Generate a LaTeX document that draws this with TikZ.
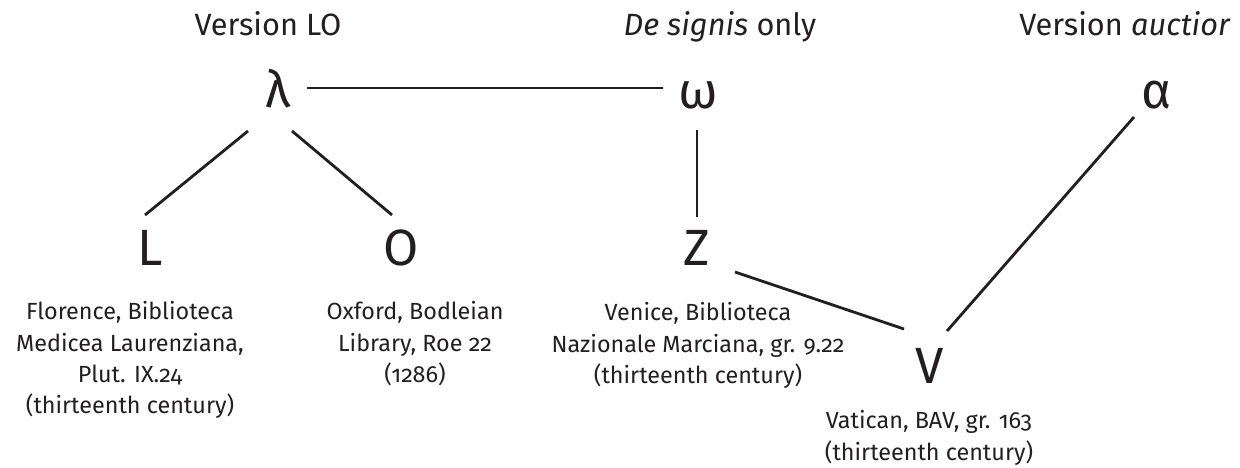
\documentclass[tikz,border=0pt]{standalone}
\usepackage{fontspec}
\setmainfont{Fira Sans}[Numbers=OldStyle]
\usetikzlibrary{calc}
\definecolor{ink}{HTML}{231F20}

\begin{document}
\begin{tikzpicture}[x=0.02cm, y=0.02cm]
\tikzstyle{every node}+=[inner sep=0pt, text=ink]
\tikzstyle{siglum}=[font=\fontsize{29}{29}\selectfont, anchor=base]
\tikzstyle{heading}=[font=\fontsize{17.5}{20}\selectfont, anchor=base]
\tikzstyle{shelfmark}=[font=\fontsize{13.3}{17.9}\selectfont, align=center, anchor=north]
\tikzstyle{link}=[ink, line width=1.6pt]
\useasboundingbox (0,0) rectangle (1240,-467);
% headings
\node [heading] (hlo) at (268,-35) {Version LO};
\node [heading] (hsig) at (720,-35) {\textit{De signis} only};
\node [heading] (hauct) at (1125,-35) {Version \textit{auctior}};
% sigla
\node [siglum] (lam) at (278,-107) {λ};
\node [siglum] (om) at (698,-108) {ω};
\node [siglum] (al) at (1157,-108) {α};
\node [siglum] (L) at (150,-265) {L};
\node [siglum] (O) at (401,-265) {O};
\node [siglum] (Z) at (697,-265) {Z};
\node [siglum] (V) at (930,-383) {V};
% manuscripts
\node [shelfmark] (msL) at (130,-301) {Florence, Biblioteca\\Medicea Laurenziana,\\Plut. IX.24\\(thirteenth century)};
\node [shelfmark] (msO) at (415,-301) {Oxford, Bodleian\\Library, Roe 22\\(1286)};
\node [shelfmark] (msZ) at (698,-302) {Venice, Biblioteca\\Nazionale Marciana, gr. 9.22\\(thirteenth century)};
\node [shelfmark] (msV) at (929,-410) {Vatican, BAV, gr. 163\\(thirteenth century)};
% stemma
\draw [link] ($(lam.base)+(29,19)$) -- ($(om.base)+(-35,20)$);
\draw [link] ($(lam.base)+(-30,-24)$) -- ($(L.base)+(-5,50)$);
\draw [link] ($(lam.base)+(14,-24)$) -- ($(O.base)+(-9,50)$);
\draw [link] ($(om.base)+(-1,-22)$) -- ($(Z.base)+(0,48)$);
\draw [link] ($(Z.base)+(38,-7)$) -- ($(V.base)+(-26,54)$);
\draw [link] ($(al.base)+(-23,-9)$) -- ($(V.base)+(17,52)$);
\end{tikzpicture}
\end{document}
